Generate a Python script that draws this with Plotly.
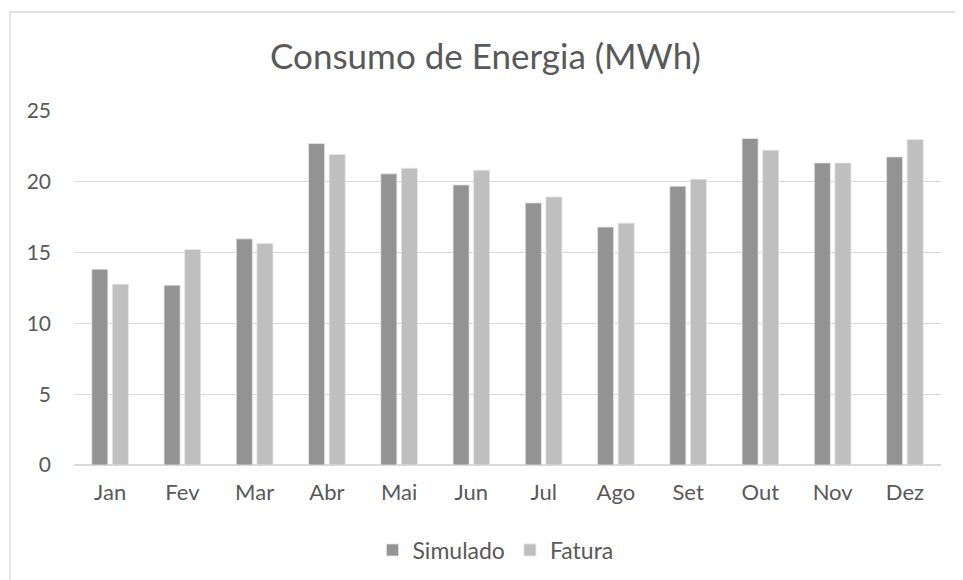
import plotly.graph_objects as go

meses = ["Jan", "Fev", "Mar", "Abr", "Mai", "Jun", "Jul", "Ago", "Set", "Out", "Nov", "Dez"]
simulado = [13.83, 12.70, 15.97, 22.70, 20.56, 19.78, 18.51, 16.80, 19.69, 23.06, 21.33, 21.76]
fatura = [12.77, 15.22, 15.64, 21.93, 20.96, 20.82, 18.93, 17.08, 20.18, 22.23, 21.33, 22.98]
y_ticks = [0, 5, 10, 15, 20, 25]

FONT = "Lato, Open Sans, sans-serif"
TXT = "#595959"

fig = go.Figure()
fig.add_trace(go.Bar(x=meses, y=simulado, name="Simulado",
                     marker=dict(color="#939393", line=dict(color="#E6E6E6", width=0.8))))
fig.add_trace(go.Bar(x=meses, y=fatura, name="Fatura",
                     marker=dict(color="#BFBFBF", line=dict(color="#E6E6E6", width=0.8))))

# page body has an 8px margin; figure is sized/positioned to compensate
W, H = 955, 572
L, R, T, B = 66, 22, 103, 115
PW, PH = W - L - R, H - T - B

fig.update_layout(
    width=W, height=H,
    paper_bgcolor="white", plot_bgcolor="white",
    margin=dict(l=L, r=R, t=T, b=B, autoexpand=False),
    barmode="group", bargap=0.43, bargroupgap=0.22,
    font=dict(family=FONT, color=TXT, size=21),
    title=dict(text="Consumo de Energia (MWh)", x=0.5, xanchor="center",
               y=1 - 49 / H, yanchor="middle",
               font=dict(family=FONT, size=35, color=TXT)),
    legend=dict(orientation="h", x=0.5 - 12 / PW, xanchor="center",
                y=-(542 - T - PH) / PH, yanchor="middle",
                font=dict(family=FONT, size=23, color=TXT), itemwidth=30,
                traceorder="normal"),
    xaxis=dict(showgrid=False, showline=False, ticks="", ticklabelstandoff=12,
               tickfont=dict(family=FONT, size=22, color=TXT)),
    yaxis=dict(range=[0, 25], tickvals=y_ticks, showgrid=True, gridcolor="#D9D9D9",
               gridwidth=1.3, zeroline=True, zerolinecolor="#D9D9D9", zerolinewidth=1.6,
               showline=False, ticks="", ticklabelstandoff=22,
               tickfont=dict(family=FONT, size=21, color=TXT)),
    shapes=[dict(type="rect", xref="paper", yref="paper",
                 x0=(2 - L) / PW, x1=(W + 20 - L) / PW,
                 y0=-(B + 20) / PH,
                 y1=1 + (T - 4) / PH,
                 line=dict(color="#D9D9D9", width=1.3), fillcolor="rgba(0,0,0,0)", layer="below")],
)

fig.write_html("out.html")
